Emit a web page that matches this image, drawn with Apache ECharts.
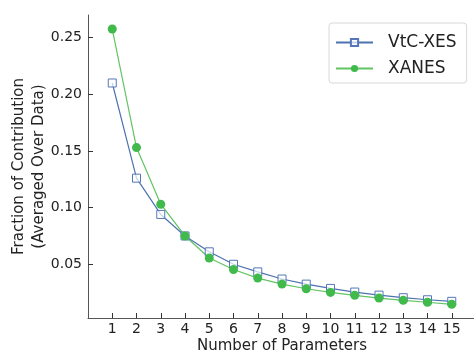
<!DOCTYPE html>
<html>
<head>
<meta charset="utf-8">
<script src="https://cdn.jsdelivr.net/npm/echarts@6/dist/echarts.min.js"></script>
<style>html,body{margin:0;padding:0;background:#fff;}#c{width:474px;height:352px;}</style>
</head>
<body>
<div id="c"></div>
<script>
const params = [1,2,3,4,5,6,7,8,9,10,11,12,13,14,15];
const vtcXes = [0.210,0.126,0.094,0.075,0.061,0.050,0.0433,0.037,0.0325,0.0287,0.0255,0.0228,0.0205,0.0187,0.0173];
const xanes  = [0.2576,0.153,0.103,0.075,0.0556,0.0454,0.0378,0.0325,0.0284,0.0252,0.0226,0.0202,0.0182,0.0165,0.0147];
const yTicks = [0.05,0.10,0.15,0.20,0.25];
const xTicks = params;

const font = 'DejaVu Sans';
const chart = echarts.init(document.getElementById('c'));
chart.setOption({
  animation: false,
  backgroundColor: '#fff',
  textStyle: {fontFamily: font},
  grid: {left: 88, top: 15, width: 388, bottom: 34, containLabel: false, outerBoundsMode: 'none'},
  legend: {
    left: 329, top: 23,
    orient: 'vertical',
    padding: [11, 10, 6, 6],
    itemGap: 9,
    itemWidth: 37, itemHeight: 9,
    borderColor: '#d8d8d8', borderWidth: 1, borderRadius: 3,
    backgroundColor: '#fff',
    textStyle: {fontFamily: font, fontSize: 17, color: '#222', padding: [0,0,0,10]},
    data: ['VtC-XES', 'XANES']
  },
  xAxis: {
    type: 'value', min: 0, max: 16,
    name: 'Number of Parameters', nameLocation: 'middle', nameGap: 21,
    nameMoveOverlap: false,
    nameTextStyle: {fontFamily: font, fontSize: 15, color: '#222'},
    axisLine: {show: true, lineStyle: {color: '#555', width: 1}},
    axisTick: {show: true, inside: true, length: 5, lineStyle: {color: '#333'}, customValues: xTicks},
    axisLabel: {fontFamily: font, fontSize: 14, color: '#222', margin: 4, customValues: xTicks},
    splitLine: {show: false}
  },
  yAxis: {
    type: 'value', min: 0.0026, max: 0.270,
    name: 'Fraction of Contribution\n(Averaged Over Data)', nameLocation: 'middle', nameGap: 39,
    nameMoveOverlap: false,
    nameRotate: 90,
    nameTextStyle: {fontFamily: font, fontSize: 15, color: '#222', lineHeight: 20},
    axisLine: {show: true, lineStyle: {color: '#555', width: 1}},
    axisTick: {show: true, inside: true, length: 5, lineStyle: {color: '#333'}, customValues: yTicks},
    axisLabel: {fontFamily: font, fontSize: 14, color: '#222', margin: 6, customValues: yTicks,
      formatter: v => v.toFixed(2)},
    splitLine: {show: false}
  },
  series: [
    {
      name: 'VtC-XES', type: 'line',
      data: params.map((p, i) => [p, vtcXes[i]]),
      symbol: 'rect', symbolSize: 8,
      lineStyle: {color: '#4c72b0', width: 1.2},
      itemStyle: {color: 'rgba(255,255,255,0.7)', borderColor: '#5577b8', borderWidth: 1}
    },
    {
      name: 'XANES', type: 'line',
      data: params.map((p, i) => [p, xanes[i]]),
      symbol: 'circle', symbolSize: 9,
      lineStyle: {color: '#62c462', width: 1.2},
      itemStyle: {color: '#3fba4b', borderWidth: 0}
    }
  ]
});
</script>
</body>
</html>
